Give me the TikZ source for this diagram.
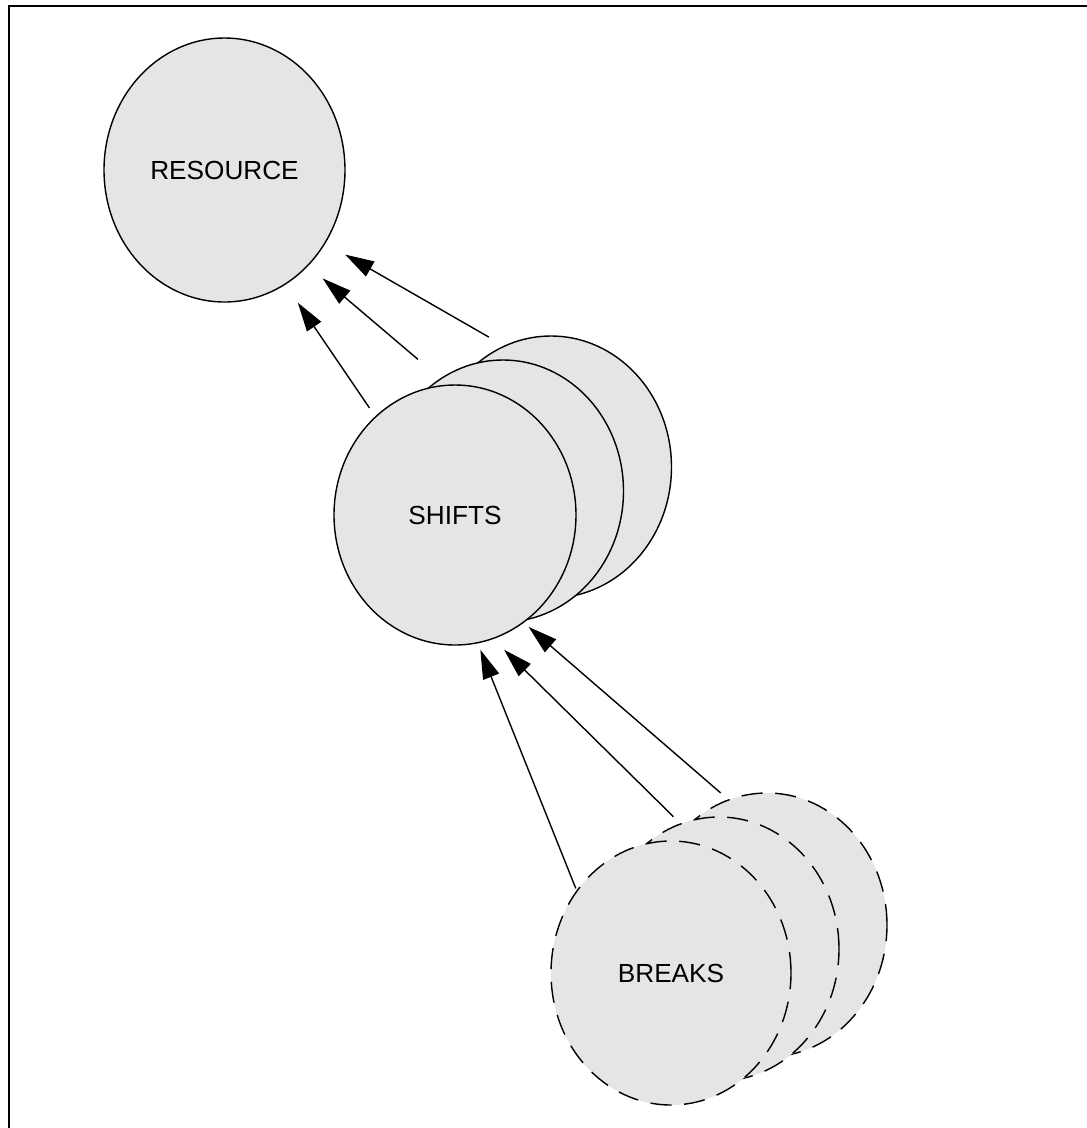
\documentclass[tikz,border=0pt]{standalone}
\usepackage{fontspec}
\setmainfont{Liberation Sans}
\usepackage{xcolor}
\usetikzlibrary{shapes.geometric,arrows.meta}
\definecolor{ovalgray}{RGB}{229,229,229}
\begin{document}
\begin{tikzpicture}[scale=0.1,
  oval/.style={ellipse, draw=black, fill=ovalgray, line width=0.4pt,
    minimum width=24.1mm, minimum height=26.2mm, outer sep=0pt,
    font=\fontsize{7.45}{9}\selectfont},
  dashoval/.style={oval, dash pattern=on 6pt off 3.6pt},
  link/.style={draw=black, line width=0.4pt, -{Triangle[length=2.9mm,width=1.7mm]}}]
\tikzstyle{every node}+=[inner sep=0pt]
\useasboundingbox (0,0) rectangle (108.7,-112.8);
\draw [black, line width=0.6pt] (0.9,-112.8) -- (0.9,-0.57) -- (108.7,-0.57);
% entity
\node [oval, minimum height=26.4mm] (res) at (22.45,-17) {RESOURCE};
% stacked shifts
\node [oval] (s3) at (55.1,-46.7) {};
\node [oval] (s2) at (50.3,-49.1) {};
\node [oval, minimum width=24.2mm, minimum height=26mm] (s1) at (45.5,-51.5) {SHIFTS};
% stacked breaks
\node [dashoval, minimum width=24mm, minimum height=26.4mm] (b3) at (76.7,-92.5) {};
\node [dashoval, minimum width=24mm, minimum height=26.4mm] (b2) at (71.9,-94.9) {};
\node [dashoval, minimum width=24mm, minimum height=26.4mm] (b1) at (67.1,-97.3) {BREAKS};
\draw [link, shorten <=1.1mm, shorten >=2.25mm] (s1.129.7) -- (res.-62.5);
\draw [link, shorten <=3mm, shorten >=1.98mm] (s2.119.9) -- (res.-49.5);
\draw [link, shorten <=1.82mm, shorten >=2.33mm] (s3.111) -- (res.-36.2);
\draw [link, shorten <=0.3mm, shorten >=0.76mm] (b1.139.6) -- (s1.-80.5);
\draw [link, shorten <=1.03mm, shorten >=1.59mm] (b2.107.8) -- (s1.-73.4);
\draw [link, shorten <=1.08mm, shorten >=0.97mm] (b3.107.6) -- (s2.-82);
\end{tikzpicture}
\end{document}
